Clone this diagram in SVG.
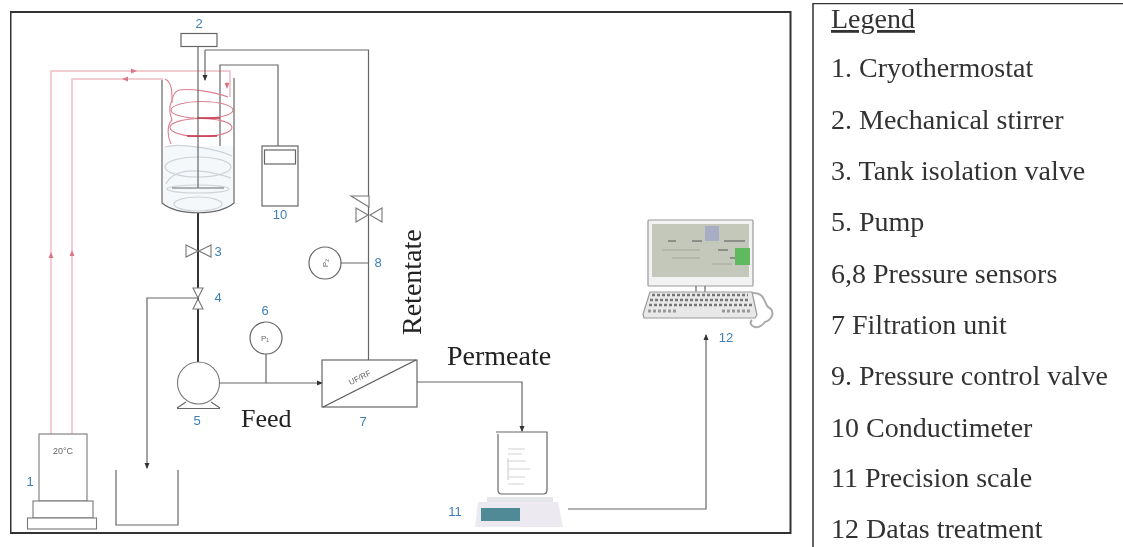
<svg xmlns="http://www.w3.org/2000/svg" width="1123" height="547" viewBox="0 0 1123 547">
<style>
.f{fill:none;stroke:#666;stroke-width:1.2}
.w{fill:#fff;stroke:#777;stroke-width:1.1}
.p{fill:none;stroke:#333;stroke-width:2}
.r{fill:none;stroke:#eebcc3;stroke-width:1.5}
.c{fill:none;stroke:#dc8090;stroke-width:1.1}
.d{fill:none;stroke:#c8324a;stroke-width:1.6}
.g{fill:none;stroke:#cfd2d6;stroke-width:1.2}
.b{font-family:"Liberation Sans",Arial,sans-serif;font-size:13px;fill:#3f7fb5;text-anchor:middle}
.t{font-family:"Liberation Serif","Times New Roman",serif;fill:#222}
.l{font-size:28px;fill:#333}
.s{font-family:"Liberation Sans",Arial,sans-serif;font-size:8px;fill:#666;text-anchor:middle}
</style>
<defs>
<marker id="a" markerUnits="userSpaceOnUse" markerWidth="7" markerHeight="7" refX="5" refY="3" orient="auto"><path d="M0 0.500L6 3L0 5.500z" fill="#333"/></marker>
<marker id="ra" markerUnits="userSpaceOnUse" markerWidth="7" markerHeight="7" refX="3" refY="3" orient="auto"><path d="M0 0.500L6 3L0 5.500z" fill="#d8798a"/></marker>
<filter id="soft" x="0" y="0" width="100%" height="100%"><feGaussianBlur stdDeviation="0.35"/></filter>
</defs>
<rect width="1123" height="547" fill="#fff"/>
<g filter="url(#soft)">
<rect x="10.500" y="12" width="780" height="521" fill="#fff" stroke="#333" stroke-width="2"/>
<g id="connectors">
<path class="r" d="M51 434V71H230V97"/>
<path class="r" d="M72 434V79H163"/>
<path class="r" d="M51 258V255" marker-end="url(#ra)"/>
<path class="r" d="M72 256V253" marker-end="url(#ra)"/>
<path class="r" d="M130 71H134" marker-end="url(#ra)"/>
<path class="r" d="M128 79H125" marker-end="url(#ra)"/>
<path class="r" d="M227 82V86" marker-end="url(#ra)"/>
<path class="f" d="M205 50H368.500V360"/>
<path class="f" d="M205 50V80" marker-end="url(#a)"/>
<path class="f" d="M220 188V65H278V146"/>
<path class="p" d="M198 213V362"/>
<path class="f" d="M198 298H147V468" marker-end="url(#a)"/>
<path class="f" d="M220 383H322" marker-end="url(#a)"/>
<path class="f" d="M417 382H522V431" marker-end="url(#a)"/>
<path class="f" d="M568 509H706V335" marker-end="url(#a)"/>
<path class="f" d="M266 354V383M341 263H368.500"/>
</g>
<g id="n1"><rect class="w" x="39" y="434" width="48" height="67"/><rect class="w" x="33" y="501" width="60" height="17"/><rect class="w" x="27.500" y="518" width="69" height="11"/><text x="63" y="454" font-family="Liberation Sans,sans-serif" font-size="9" fill="#666" text-anchor="middle">20°C</text><text class="b" x="30" y="486">1</text></g>
<g id="n2"><rect class="f" x="181" y="33.500" width="36" height="13"/><text class="b" x="199" y="28">2</text></g>
<g id="tank">
<path d="M163 146H233V203C218 214 178 214 163 203z" fill="#f4f8fa"/>
<ellipse class="g" cx="198" cy="167" rx="33" ry="10"/>
<path class="g" d="M165 147C180 142 220 150 232 156M166 184C178 160 225 176 231 178"/>
<ellipse class="g" cx="198" cy="189" rx="31" ry="4"/>
<ellipse class="g" cx="198" cy="204" rx="24" ry="7"/>
<path class="c" d="M228 97C215 92 190 88 179 90C174 92 172 98 172 103"/>
<ellipse class="c" cx="202" cy="110" rx="31" ry="8.500"/>
<ellipse class="c" cx="201" cy="127.500" rx="31" ry="9"/>
<path class="c" d="M172 100C168 108 170 114 172 120C166 126 168 138 171 144M165 79C172 82 172 92 172 100"/>
<path class="d" d="M197 118H220M187 136H217"/>
<path class="f" d="M162 80V203C178 216 218 216 234 203V78"/>
<path class="f" d="M198 47V188"/>
<path class="f" d="M172 188H224"/>
</g>
<g id="n3"><path class="w" d="M186 245L198 251L186 257zM211 245L199 251L211 257z"/><text class="b" x="218" y="256">3</text></g>
<g id="n4"><path class="w" d="M193 288H203L198 298zM193 309H203L198 299z"/><text class="b" x="218" y="302">4</text></g>
<g id="n5"><circle class="w" cx="198.500" cy="383" r="21"/><path class="f" d="M177 408L186 402M220 408L211 402M177 408.500H220"/><text class="b" x="197" y="425">5</text></g>
<g id="n6"><circle class="f" cx="266" cy="338" r="16"/><text class="s" x="265" y="341">P₁</text><text class="b" x="265" y="315">6</text></g>
<g id="n7"><rect class="f" x="322" y="360" width="95" height="47"/><path d="M323 407L416 360" fill="none" stroke="#555" stroke-width="1.200"/><text class="s" transform="translate(361 380) rotate(-27)">UF/RF</text><text class="b" x="363" y="426">7</text></g>
<g id="n8"><circle class="f" cx="325" cy="263" r="16"/><text class="s" transform="translate(325 263) rotate(-90)" y="3">P₂</text><text class="b" x="378" y="267">8</text></g>
<g id="n9"><path class="w" d="M356 208L368 215L356 222zM382 208L370 215L382 222z"/><path class="w" d="M351 196H369V207z"/></g>
<g id="n10"><rect class="f" x="262" y="146" width="36" height="60"/><rect class="f" x="264.500" y="150" width="31" height="14"/><text class="b" x="280" y="219">10</text></g>
<g id="basin"><path class="f" d="M116 470V525H178V470"/></g>
<g id="n11">
<path class="f" d="M496 432H547V490Q547 494 543 494H502Q498 494 498 490V434"/>
<path class="g" d="M508 449H525M508 454H522M508 461H526M508 469H530M508 477H525M508 484H524M508 458V480"/>
<path d="M478 502H558L563 527H475z" fill="#eceaf0"/>
<path d="M487 497H553V502H487z" fill="#e4e6ea"/>
<rect x="481" y="508" width="39" height="13" fill="#4f8a96"/>
<text class="b" x="455" y="516">11</text></g>
<g id="n12">
<rect x="648" y="220" width="105" height="66" rx="1" fill="#f2f2f2" stroke="#999" stroke-width="1.200"/>
<rect x="652" y="224" width="97" height="53" fill="#c4c8ba"/>
<rect x="705" y="226" width="14" height="15" fill="#a7adc4"/>
<rect x="735" y="248" width="15" height="17" fill="#5fb95f"/>
<path d="M668 241H676M692 241H702M724 241H745M718 250H728M730 258H735" fill="none" stroke="#555" stroke-width="1.200"/>
<path d="M662 250H700M672 258H700M712 264H732" fill="none" stroke="#a4a898" stroke-width="1"/>
<path class="f" d="M696 286V292M705 286V292"/>
<path d="M650 292H752L757 315L755 318H644L643 314z" fill="#e8e8e8" stroke="#999" stroke-width="1.200"/>
<path d="M652 295H748M650 300H750M649 305H752" stroke="#777" stroke-width="2.500" stroke-dasharray="3 2" fill="none"/>
<path d="M648 311H676M722 311H752" stroke="#999" stroke-width="3" stroke-dasharray="3 2" fill="none"/>
<path d="M752 293C765 292 764 303 768 307C776 311 772 320 765 322C757 332 747 325 752 320" fill="none" stroke="#aaa" stroke-width="2"/>
<text class="b" x="726" y="342">12</text></g>
<text class="t" x="241" y="427" font-size="26">Feed</text>
<text class="t" x="447" y="365" font-size="28">Permeate</text>
<text class="t" transform="translate(421 335) rotate(-90)" font-size="28">Retentate</text>
<g id="legend">
<path d="M813 547V3.500H1123" fill="none" stroke="#333" stroke-width="1.500"/>
<g class="t l">
<text x="831" y="28" text-decoration="underline">Legend</text>
<text x="831" y="77">1. Cryothermostat</text>
<text x="831" y="129">2. Mechanical stirrer</text>
<text x="831" y="180">3. Tank isolation valve</text>
<text x="831" y="231">5. Pump</text>
<text x="831" y="283">6,8 Pressure sensors</text>
<text x="831" y="334">7 Filtration unit</text>
<text x="831" y="385">9. Pressure control valve</text>
<text x="831" y="437">10 Conductimeter</text>
<text x="831" y="487">11 Precision scale</text>
<text x="831" y="538">12 Datas treatment</text>
</g></g>
</g>
</svg>
